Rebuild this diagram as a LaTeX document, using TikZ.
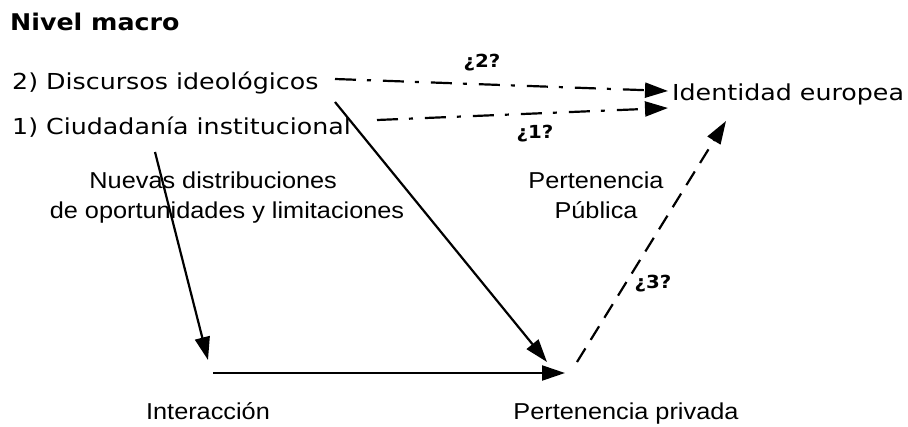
\documentclass[tikz,border=0pt]{standalone}
\usepackage{fontspec}
\usetikzlibrary{arrows.meta}
\newfontfamily\vfont[FakeStretch=1.15]{DejaVu Sans}
\newfontfamily\vbfont[FakeStretch=1.1]{DejaVu Sans Bold}
\newfontfamily\afont[FakeStretch=1.1]{Liberation Sans}
\tikzset{
  vtext/.style={inner sep=0pt, font=\vfont\fontsize{22}{26}\selectfont},
  atext/.style={inner sep=0pt, align=center, font=\afont\fontsize{23}{30}\selectfont},
  qtext/.style={inner sep=0pt, anchor=base, font=\vbfont\fontsize{18}{22}\selectfont},
  arr/.style={line width=2.2pt, -{Triangle[length=23pt,width=15pt]}},
  dashdot/.style={arr, dash pattern=on 21pt off 11pt on 4pt off 12pt},
  dashlong/.style={arr, dash pattern=on 16pt off 10pt},
}
\begin{document}
\begin{tikzpicture}[x=1pt,y=-1pt]
\useasboundingbox (0,0) rectangle (908,426);
\node[anchor=base west, inner sep=0pt, font=\vbfont\fontsize{23}{26}\selectfont] (title) at (10,30) {Nivel macro};
\node[vtext, anchor=base west] (disc) at (12,89) {2) Discursos ideológicos};
\node[vtext, anchor=base west] (ciud) at (12,134) {1) Ciudadanía institucional};
\node[vtext, anchor=base west] (ident) at (672,100) {Identidad europea};
\node[atext, anchor=base] (nuevas) at (227,218) {Nuevas distribuciones\hspace*{1.2em}\\de oportunidades y limitaciones};
\node[atext, anchor=base] (ppub) at (596,218) {Pertenencia\\Pública};
\node[atext, anchor=base] (inter) at (208,419) {Interacción};
\node[atext, anchor=base] (ppriv) at (626,419) {Pertenencia privada};
\node[qtext] (q2) at (482,67) {¿2?};
\node[qtext] (q1) at (535,138) {¿1?};
\node[qtext] (q3) at (653,288) {¿3?};
\coordinate (d1s) at (335,79);  \coordinate (d1e) at (668,91);
\coordinate (d2s) at (377,120); \coordinate (d2e) at (668,108);
\coordinate (s1s) at (335,102); \coordinate (s1e) at (547,362);
\coordinate (s2s) at (155,152); \coordinate (s2e) at (208,360);
\coordinate (hs) at (213,373);  \coordinate (he) at (565,373);
\coordinate (ds) at (577,362);  \coordinate (de) at (726,121);
\draw[dashdot] (d1s) -- (d1e);
\draw[dashdot] (d2s) -- (d2e);
\draw[arr] (s1s) -- (s1e);
\draw[arr] (s2s) -- (s2e);
\draw[arr] (hs) -- (he);
\draw[dashlong] (ds) -- (de);
\end{tikzpicture}
\end{document}
